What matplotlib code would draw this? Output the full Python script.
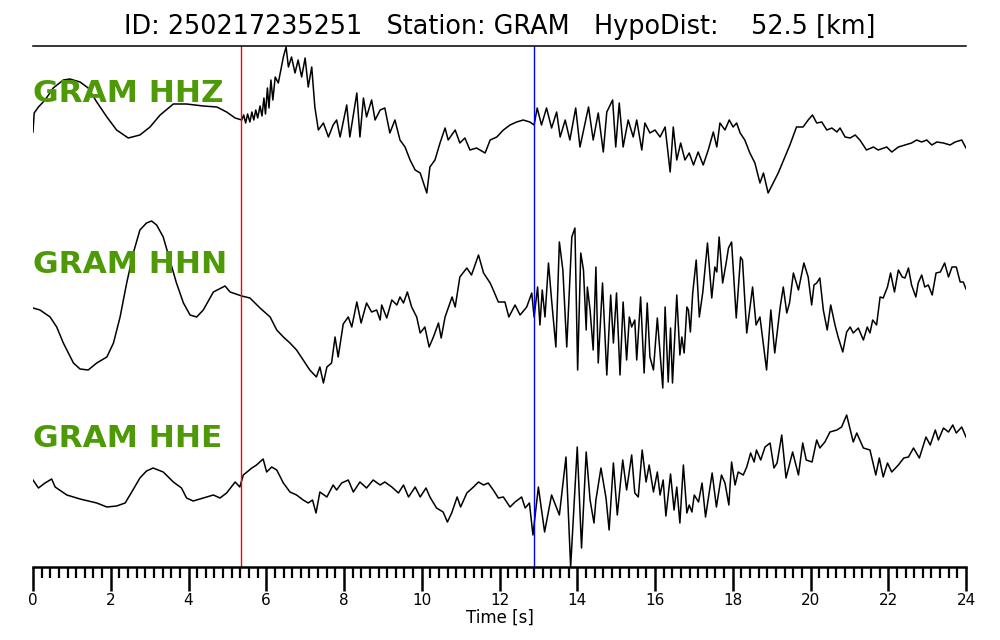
import numpy as np
import matplotlib.pyplot as plt
from matplotlib.ticker import MultipleLocator, AutoMinorLocator

# waveform samples (time in s, amplitude in arbitrary units)
hhz_t = [0.00, 0.03, 0.14, 0.31, 0.52, 0.78, 0.95, 1.21, 1.42, 1.64, 1.90, 2.15, 2.45, 2.75, 3.01, 3.27,
         3.61, 3.95, 4.38, 4.73, 4.98, 5.20, 5.37, 5.42, 5.47, 5.52, 5.58, 5.63, 5.68, 5.73, 5.78, 5.84,
         5.89, 5.94, 5.98, 6.03, 6.07, 6.12, 6.17, 6.23, 6.31, 6.44, 6.51, 6.57,
         6.65, 6.74, 6.82, 6.91, 7.00, 7.08, 7.17, 7.25, 7.34, 7.47, 7.60, 7.72, 7.81, 7.90, 8.07, 8.15,
         8.33, 8.41, 8.50, 8.58, 8.71, 8.80, 8.93, 9.05, 9.18, 9.31, 9.44, 9.57, 9.70, 9.83, 9.96, 10.13,
         10.21, 10.34, 10.47, 10.60, 10.68, 10.86, 10.98, 11.11, 11.24, 11.41, 11.63, 11.76, 11.93, 12.10,
         12.27, 12.44, 12.61, 12.78, 12.89, 12.97, 13.08, 13.21, 13.34, 13.47, 13.56, 13.69, 13.81, 13.96,
         14.07, 14.29, 14.41, 14.54, 14.67, 14.76, 14.91, 14.99, 15.08, 15.18, 15.31, 15.44, 15.53, 15.66,
         15.74, 15.87, 16.00, 16.13, 16.26, 16.39, 16.47, 16.56, 16.66, 16.77, 16.88, 16.99, 17.11, 17.24,
         17.37, 17.50, 17.59, 17.67, 17.80, 17.91, 18.01, 18.10, 18.19, 18.31, 18.44, 18.57, 18.70, 18.79,
         18.91, 19.04, 19.17, 19.34, 19.47, 19.64, 19.81, 19.94, 20.05, 20.16, 20.29, 20.42, 20.55, 20.68,
         20.76, 20.89, 21.02, 21.15, 21.27, 21.44, 21.62, 21.74, 21.96, 22.09, 22.26, 22.43, 22.60, 22.73,
         22.86, 22.99, 23.12, 23.25, 23.42, 23.59, 23.72, 23.89, 24.00]
hhz_a = [-12, 7, 13, 20, 32, 40, 41, 38, 32, 18, 3, -10, -18, -15, -7, 5,
         16, 16, 14, 13, 8, 2, 0, 5, -3, 6, -2, 8, 0, 10, 2, 14,
         4, 22, 6, 32, 12, 40, 20, 43, 37, 63, 73, 53,
         63, 47, 60, 43, 62, 33, 53, 13, -10, -3, -17, -5, 0, -17, 15, -17,
         27, -17, 22, 3, 20, 0, 10, 12, -13, 0, -20, -27, -40, -50, -53, -73,
         -47, -40, -23, -8, -20, -10, -23, -18, -30, -28, -33, -20, -17, -10,
         -5, -2, 0, -2, -5, 12, -5, 12, -8, 8, -17, 0, -20, 12,
         -27, 13, -20, 7, -32, 8, 20, -27, 17, -27, 0, -17, 0, -30,
         -3, -13, -10, -17, -7, -52, -7, -40, -23, -40, -33, -45, -32, -45,
         -30, -12, -27, -3, -10, 0, -7, -3, -13, -20, -33, -43, -63, -53,
         -73, -63, -53, -37, -25, -7, -7, 0, 5, -3, -2, -10, -8, -12,
         -8, -17, -18, -15, -20, -30, -27, -30, -27, -32, -27, -25, -23, -20,
         -22, -20, -25, -22, -23, -25, -22, -20, -28]

hhn_t = [0.00, 0.18, 0.44, 0.61, 0.78, 1.04, 1.21, 1.42, 1.64, 1.90, 2.07, 2.24, 2.41, 2.58, 2.75, 2.92,
         3.05, 3.18, 3.35, 3.52, 3.69, 3.87, 4.04, 4.21, 4.38, 4.64, 4.94, 5.07, 5.37, 5.58, 5.84, 6.10,
         6.27, 6.44, 6.61, 6.78, 6.95, 7.12, 7.29, 7.38, 7.47, 7.56, 7.68, 7.77, 7.85, 7.98, 8.11, 8.20,
         8.33, 8.44, 8.58, 8.71, 8.84, 8.93, 8.97, 9.10, 9.23, 9.36, 9.44, 9.53, 9.63, 9.74, 9.87, 9.96,
         10.08, 10.19, 10.30, 10.43, 10.50, 10.60, 10.78, 10.86, 10.98, 11.16, 11.28, 11.46, 11.59, 11.76,
         11.84, 11.97, 12.14, 12.24, 12.40, 12.53, 12.70, 12.83, 12.89, 12.98, 13.04, 13.10, 13.17, 13.26,
         13.34, 13.45, 13.54, 13.63, 13.73, 13.86, 13.94, 14.01, 14.09, 14.16, 14.23, 14.26, 14.33, 14.41,
         14.48, 14.54, 14.65, 14.76, 14.86, 14.93, 15.01, 15.10, 15.18, 15.27, 15.34, 15.40, 15.48, 15.53,
         15.63, 15.72, 15.80, 15.87, 15.96, 16.06, 16.20, 16.26, 16.34, 16.40, 16.45, 16.56, 16.64, 16.69,
         16.75, 16.82, 16.86, 16.91, 16.97, 17.06, 17.14, 17.23, 17.35, 17.46, 17.54, 17.59, 17.65, 17.74,
         17.83, 17.89, 17.97, 18.09, 18.20, 18.25, 18.36, 18.51, 18.60, 18.70, 18.87, 18.98, 19.08, 19.22,
         19.30, 19.39, 19.46, 19.56, 19.69, 19.83, 19.94, 20.03, 20.09, 20.16, 20.24, 20.33, 20.43, 20.52,
         20.63, 20.71, 20.83, 20.93, 21.02, 21.10, 21.23, 21.36, 21.46, 21.53, 21.60, 21.70, 21.79, 21.87,
         21.98, 22.06, 22.16, 22.26, 22.36, 22.43, 22.52, 22.60, 22.71, 22.77, 22.86, 22.94, 23.03, 23.13,
         23.23, 23.34, 23.45, 23.55, 23.64, 23.75, 23.85, 23.93, 24.00]
hhn_a = [-8, -10, -17, -27, -43, -63, -69, -70, -63, -57, -43, -17, 17, 47, 70, 77,
         79, 75, 63, 40, 17, -3, -15, -17, -10, 8, 14, 8, 4, 2, -8, -17,
         -30, -37, -43, -50, -60, -70, -77, -67, -83, -67, -63, -37, -57, -24, -17, -27,
         -2, -23, -3, -12, -10, -20, -5, -18, 0, -5, 3, -3, 8, -7, -17, -33,
         -27, -47, -37, -23, -38, -17, 3, -7, 23, 32, 25, 45, 27, 17,
         10, -2, -2, -17, -5, -15, -7, 7, -17, 13, -25, 10, -17, 37,
         0, -47, 58, 30, -47, 63, 72, -70, 47, 30, -30, 13, -10, -50,
         33, -63, 17, -75, 5, -43, 7, -75, -2, -60, -17, -27, -20, -60,
         3, -73, -3, -57, -70, -18, -88, -7, -82, -28, -83, 5, -55, -37,
         -53, -7, -10, -32, 7, 40, -17, 8, 57, 2, 33, 28, 63, 17,
         37, 52, 58, -18, 43, 40, -33, 13, -25, -17, -70, -10, -53, -7,
         13, -13, -3, 27, 10, 37, 23, -5, 15, 17, 22, -10, -30, -5,
         -25, -37, -52, -32, -27, -33, -28, -40, -27, -33, -20, -25, 3, 2,
         13, 27, 8, 30, 23, 22, 32, 15, 3, 17, 25, 13, 15, 5,
         27, 28, 37, 23, 33, 33, 18, 18, 11]

hhe_t = [0.00, 0.14, 0.31, 0.48, 0.57, 0.87, 1.21, 1.64, 1.90, 2.15, 2.37, 2.54, 2.75, 2.92, 3.09, 3.35,
         3.61, 3.82, 3.95, 4.12, 4.38, 4.64, 4.81, 4.98, 5.20, 5.32, 5.41, 5.63, 5.75, 5.92, 6.01, 6.14,
         6.27, 6.44, 6.61, 6.78, 6.95, 7.08, 7.19, 7.28, 7.38, 7.56, 7.72, 7.81, 7.94, 8.11, 8.24, 8.41,
         8.58, 8.75, 8.93, 9.05, 9.23, 9.40, 9.53, 9.66, 9.83, 9.96, 10.11, 10.21, 10.38, 10.55, 10.66,
         10.77, 10.91, 11.00, 11.16, 11.33, 11.46, 11.59, 11.71, 11.84, 11.97, 12.10, 12.27, 12.40, 12.57,
         12.66, 12.77, 12.86, 13.00, 13.16, 13.34, 13.54, 13.71, 13.83, 14.00, 14.11, 14.23, 14.33, 14.43,
         14.48, 14.61, 14.74, 14.82, 14.93, 15.03, 15.17, 15.27, 15.40, 15.48, 15.57, 15.67, 15.77, 15.85,
         15.96, 16.06, 16.13, 16.21, 16.28, 16.40, 16.49, 16.56, 16.64, 16.73, 16.82, 16.88, 16.95, 17.01,
         17.12, 17.21, 17.30, 17.47, 17.58, 17.71, 17.80, 17.90, 17.97, 18.06, 18.14, 18.27, 18.36, 18.46,
         18.55, 18.61, 18.72, 18.83, 18.96, 19.06, 19.14, 19.26, 19.37, 19.54, 19.69, 19.80, 19.89, 20.04,
         20.16, 20.24, 20.37, 20.50, 20.68, 20.80, 20.93, 21.10, 21.19, 21.36, 21.53, 21.68, 21.77, 21.87,
         21.98, 22.09, 22.26, 22.40, 22.52, 22.65, 22.80, 22.97, 23.08, 23.21, 23.29, 23.42, 23.55, 23.66,
         23.75, 23.89, 24.00]
hhe_a = [10, 2, 7, 11, 3, -5, -9, -13, -17, -16, -13, -2, 12, 19, 22, 18,
         8, 2, -8, -11, -8, -5, -8, -3, 8, 3, 15, 22, 25, 31, 18, 23,
         20, 7, -2, -5, -10, -13, -10, -23, -2, -7, 5, 0, 7, 10, -2, 8,
         2, 10, 5, 8, 3, -3, 5, -7, 3, -7, 2, -7, -18, -22, -32,
         -23, -7, -17, -3, 3, 8, 5, 7, 0, -8, -7, -17, -12, -7,
         -18, -13, -45, 3, -42, -5, -25, 33, -77, 43, -58, 38, -10, -33,
         -10, 22, -8, -40, 27, -25, 30, 0, 35, -3, -7, 40, 8, 25,
         -2, 18, -5, 10, -26, 16, -20, 3, -33, 25, -23, -15, -22, -5,
         -12, 7, -27, 17, -17, 15, 7, -15, 28, 5, 18, 15, 23, 37,
         28, 40, 30, 43, 47, 22, 27, 55, 12, 38, 15, 47, 30, 28,
         50, 42, 48, 58, 60, 63, 75, 48, 57, 42, 40, 15, 32, 13,
         27, 18, 25, 32, 33, 42, 32, 53, 45, 60, 50, 62, 58, 65,
         57, 63, 53]

channels = ["GRAM HHZ", "GRAM HHN", "GRAM HHE"]
offsets = [-120, -300, -490]
label_y = [-102, -273, -447]
p_pick = 5.36
s_pick = 12.89

fig = plt.figure(figsize=(10, 6.4), dpi=100)
ax = fig.add_axes([0.033, (640 - 567) / 640, 0.933, (567 - 46) / 640])

traces = [(hhz_t, hhz_a), (hhn_t, hhn_a), (hhe_t, hhe_a)]
for (t, a), off, ly, name in zip(traces, offsets, label_y, channels):
    ax.plot(t, np.array(a) + off, color="black", linewidth=1.1)
    ax.text(0.0, ly, name, color="#4e9a06", fontsize=22.5, fontweight="bold",
            ha="left", va="baseline")

ax.axvline(p_pick, color="red", linewidth=1.0)
ax.axvline(s_pick, color="blue", linewidth=1.0)

ax.set_xlim(0, 24)
ax.set_ylim(-567, -46)
ax.set_yticks([])
for side in ["left", "right"]:
    ax.spines[side].set_visible(False)
ax.spines["top"].set_linewidth(1.1)
ax.spines["bottom"].set_linewidth(1.8)
ax.xaxis.set_major_locator(MultipleLocator(2))
ax.xaxis.set_minor_locator(AutoMinorLocator(9))
ax.tick_params(axis="x", which="major", length=17, width=1.8, labelsize=11, pad=2)
ax.tick_params(axis="x", which="minor", length=8, width=1.6)
ax.set_xlabel("Time [s]", fontsize=12, labelpad=0)

fig.text(0.5, 1 - 27 / 640, "ID: 250217235251   Station: GRAM   HypoDist:    52.5 [km]",
         ha="center", va="center", fontsize=18.4)

fig.savefig("out.png", dpi=100)
